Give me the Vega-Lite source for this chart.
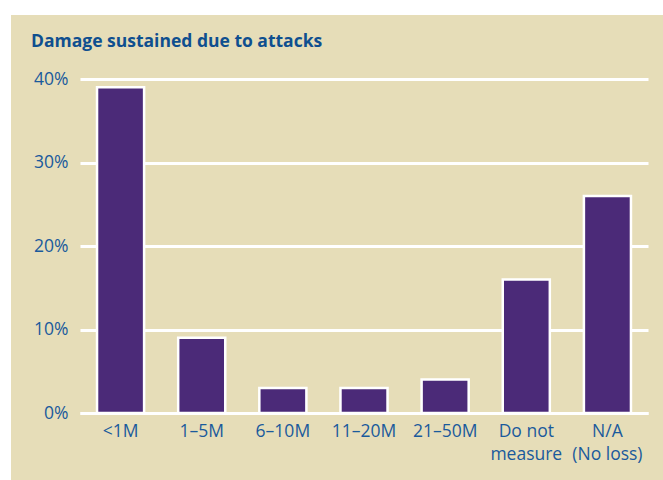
{
  "$schema": "https://vega.github.io/schema/vega-lite/v6.json",
  "width": 652,
  "height": 465,
  "autosize": {"type": "none"},
  "padding": {"left": 11, "top": 15, "right": 0, "bottom": 0},
  "background": "#ffffff",
  "title": {
    "text": "Damage sustained due to attacks",
    "anchor": "start",
    "frame": "group",
    "offset": 0,
    "baseline": "alphabetic",
    "dx": 20,
    "dy": 49,
    "font": "Open Sans",
    "fontSize": 17.5,
    "fontWeight": "bold",
    "color": "#0f4f8f"
  },
  "data": {
    "values": [
      {"category": "<1M", "share": 39},
      {"category": "1–5M", "share": 9},
      {"category": "6–10M", "share": 3},
      {"category": "11–20M", "share": 3},
      {"category": "21–50M", "share": 4},
      {"category": "Do not measure", "share": 16},
      {"category": "N/A (No loss)", "share": 26}
    ]
  },
  "mark": {"type": "bar", "color": "#4b2a78", "stroke": "#ffffff", "strokeWidth": 2.5},
  "encoding": {
    "x": {
      "field": "category",
      "type": "nominal",
      "sort": null,
      "scale": {"range": [69, 637], "paddingInner": 0.42, "paddingOuter": 0.21},
      "axis": {
        "title": null,
        "orient": "bottom",
        "offset": -67,
        "ticks": false,
        "domain": true,
        "domainColor": "#ffffff",
        "domainWidth": 3,
        "labelAngle": 0,
        "labelPadding": 9,
        "labelFont": "Open Sans",
        "labelFontSize": 17.5,
        "labelColor": "#1a5a9c",
        "labelLineHeight": 23,
        "labelExpr": "datum.value == 'Do not measure' ? ['Do not', 'measure'] : datum.value == 'N/A (No loss)' ? ['N/A', '(No loss)'] : datum.label"
      }
    },
    "y": {
      "field": "share",
      "type": "quantitative",
      "scale": {"domain": [0, 40], "range": [398, 64], "nice": false},
      "axis": {
        "title": null,
        "orient": "left",
        "offset": -69,
        "values": [0, 10, 20, 30, 40],
        "ticks": false,
        "domain": false,
        "grid": true,
        "gridColor": "#ffffff",
        "gridWidth": 3,
        "gridOpacity": 1,
        "labelPadding": 12,
        "labelFont": "Open Sans",
        "labelFontSize": 17.5,
        "labelColor": "#1a5a9c",
        "labelExpr": "datum.value + '%'"
      }
    }
  },
  "config": {
    "view": {"fill": "#e6ddb8", "stroke": null}
  }
}
